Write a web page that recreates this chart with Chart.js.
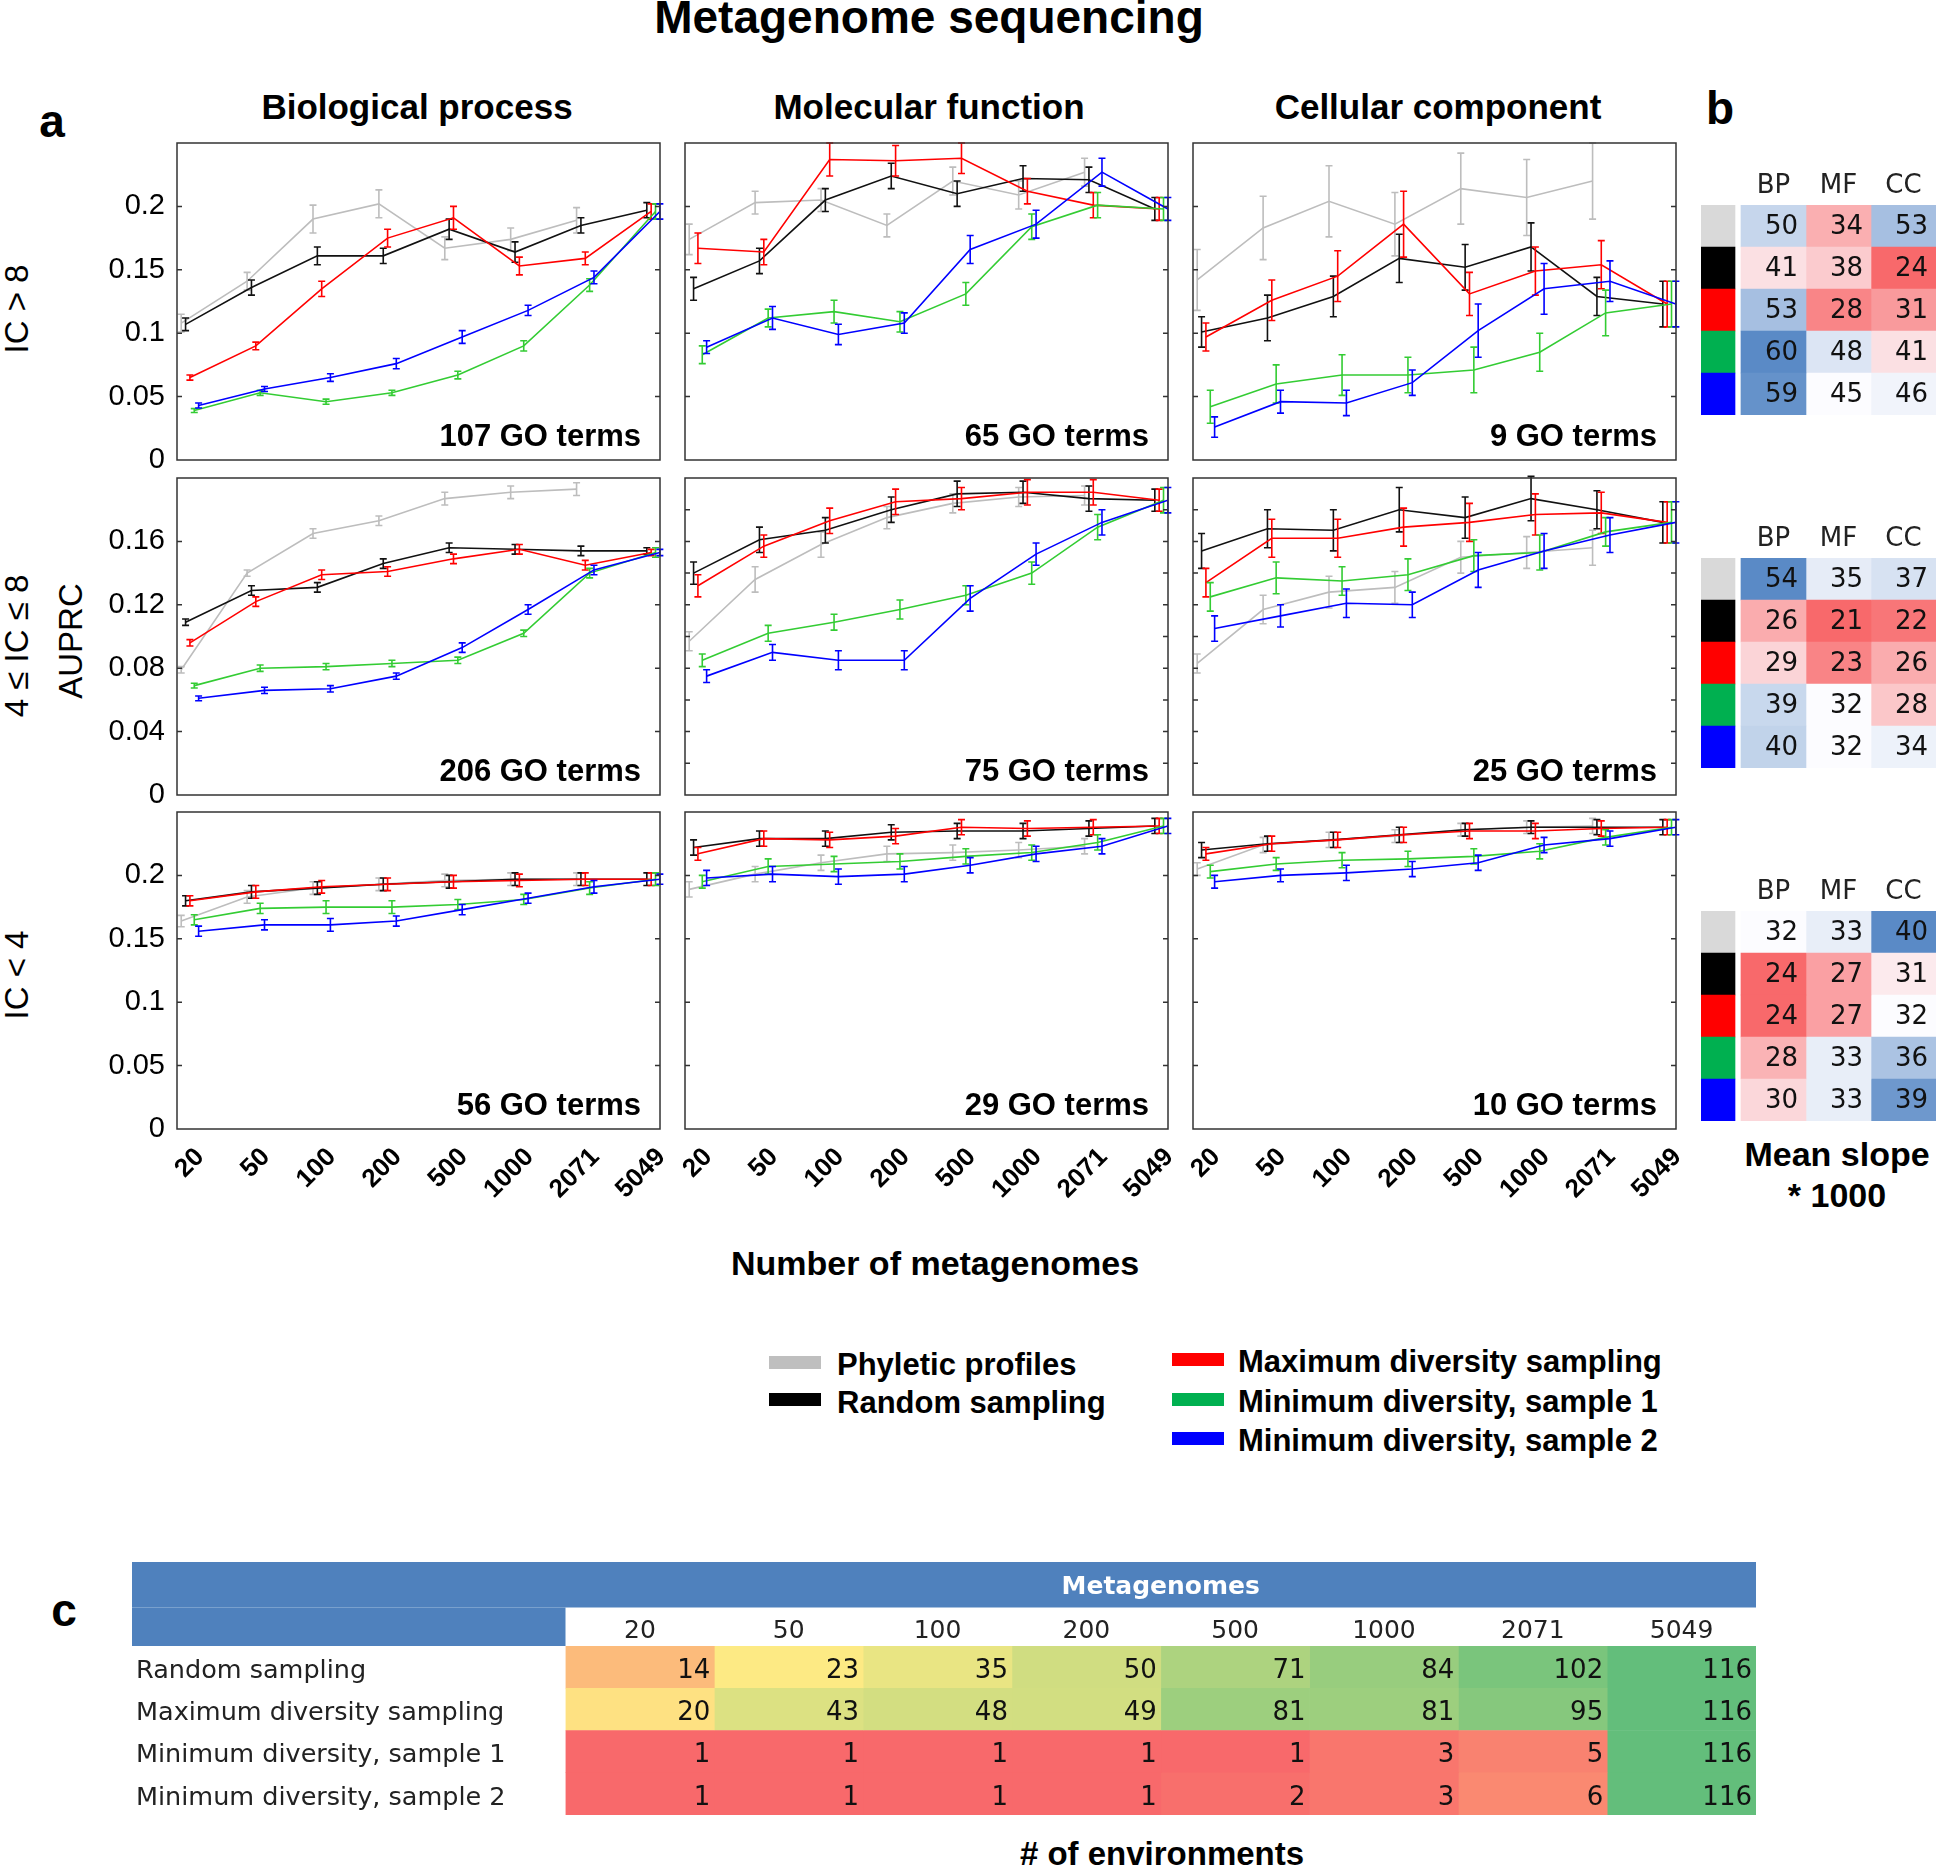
<!DOCTYPE html>
<html>
<head>
<meta charset="utf-8">
<script src="https://cdn.jsdelivr.net/npm/chart.js@4.4.1/dist/chart.umd.min.js"></script>
<style>
  body { margin: 0; width: 1936px; height: 1867px; overflow: hidden; background: #fff; position: relative;
         font-family: "Liberation Sans", Arial, Helvetica, sans-serif; color: #000; }
  canvas { position: absolute; }
  .t { position: absolute; white-space: nowrap; line-height: 1; }
  .c { transform: translate(-50%, -50%); }
  .r { transform: translate(-50%, -50%) rotate(-90deg); }
  .l { transform: translateY(-50%); }
  .b { font-weight: bold; }
  .sw { position: absolute; width: 52px; height: 13px; }
</style>
</head>
<body>

<div class="t c b" style="left:929px;top:17px;font-size:46px">Metagenome sequencing</div>
<div class="t c b" style="left:52px;top:121px;font-size:46px">a</div>
<div class="t c b" style="left:1720px;top:108px;font-size:46px">b</div>
<div class="t c b" style="left:64px;top:1610px;font-size:46px">c</div>

<div class="t c b" style="left:417px;top:106px;font-size:35px">Biological process</div>
<div class="t c b" style="left:929px;top:106px;font-size:35px">Molecular function</div>
<div class="t c b" style="left:1438px;top:106px;font-size:35px">Cellular component</div>

<div class="t r" style="left:16px;top:309px;font-size:33px">IC &gt; 8</div>
<div class="t r" style="left:16px;top:646px;font-size:33px">4 ≤ IC ≤ 8</div>
<div class="t r" style="left:16px;top:975px;font-size:33px">IC &lt; 4</div>
<div class="t r" style="left:70px;top:641px;font-size:33px">AUPRC</div>

<div class="t c b" style="left:935px;top:1263px;font-size:34px">Number of metagenomes</div>

<div class="sw" style="left:769px;top:1356px;background:#bfbfbf"></div>
<div class="sw" style="left:769px;top:1393px;background:#000"></div>
<div class="sw" style="left:1172px;top:1353px;background:#ff0000"></div>
<div class="sw" style="left:1172px;top:1393px;background:#00b050"></div>
<div class="sw" style="left:1172px;top:1432px;background:#0000ff"></div>
<div class="t l b" style="left:837px;top:1364px;font-size:31px">Phyletic profiles</div>
<div class="t l b" style="left:837px;top:1402px;font-size:31px">Random sampling</div>
<div class="t l b" style="left:1238px;top:1361px;font-size:31px">Maximum diversity sampling</div>
<div class="t l b" style="left:1238px;top:1401px;font-size:31px">Minimum diversity, sample 1</div>
<div class="t l b" style="left:1238px;top:1440px;font-size:31px">Minimum diversity, sample 2</div>

<div class="t c b" style="left:1837px;top:1154px;font-size:34px">Mean slope</div>
<div class="t c b" style="left:1837px;top:1195px;font-size:34px">* 1000</div>

<div class="t c b" style="left:1162px;top:1853px;font-size:33px"># of environments</div>

<script>
const FONT = '"Liberation Sans", Arial, Helvetica, sans-serif';
const CELL_FONT = '"DejaVu Sans", Verdana, sans-serif';

// categories
const metagenomes = ['20', '50', '100', '200', '500', '1000', '2071', '5049'];
const seriesNames = ['Phyletic profiles', 'Random sampling', 'Maximum diversity sampling',
                     'Minimum diversity, sample 1', 'Minimum diversity, sample 2'];
const ontologies = ['BP', 'MF', 'CC'];
const goTerms = [[107, 65, 9], [206, 75, 25], [56, 29, 10]];

// AUPRC means, rows = gray, black, red, green, blue
const bpHighMean = [
  [0.108, 0.141, 0.190, 0.202, 0.167, 0.174, 0.189],
  [0.107, 0.136, 0.161, 0.161, 0.182, 0.164, 0.185, 0.197],
  [0.065, 0.090, 0.135, 0.175, 0.191, 0.153, 0.159, 0.196],
  [0.039, 0.053, 0.046, 0.053, 0.067, 0.090, 0.138, 0.196],
  [0.043, 0.056, 0.065, 0.076, 0.097, 0.118, 0.144, 0.196]
];
const bpHighErr = [
  [0.007, 0.007, 0.011, 0.011, 0.009, 0.009, 0.010],
  [0.005, 0.006, 0.007, 0.006, 0.008, 0.008, 0.006, 0.006],
  [0.002, 0.003, 0.006, 0.007, 0.009, 0.007, 0.005, 0.006],
  [0.0015, 0.002, 0.002, 0.002, 0.003, 0.004, 0.005, 0.006],
  [0.002, 0.002, 0.003, 0.004, 0.005, 0.004, 0.005, 0.006]
];
const mfHighMean = [
  [0.174, 0.203, 0.205, 0.185, 0.220, 0.209, 0.227],
  [0.135, 0.157, 0.205, 0.224, 0.210, 0.222, 0.221, 0.198],
  [0.167, 0.164, 0.237, 0.236, 0.238, 0.212, 0.201, 0.198],
  [0.083, 0.112, 0.117, 0.109, 0.131, 0.184, 0.201, 0.198],
  [0.089, 0.112, 0.099, 0.108, 0.166, 0.186, 0.227, 0.198]
];
const mfHighErr = [
  [0.012, 0.009, 0.009, 0.009, 0.011, 0.011, 0.011],
  [0.009, 0.010, 0.009, 0.010, 0.010, 0.010, 0.010, 0.009],
  [0.012, 0.010, 0.013, 0.012, 0.012, 0.010, 0.010, 0.009],
  [0.007, 0.007, 0.009, 0.008, 0.009, 0.010, 0.010, 0.009],
  [0.005, 0.009, 0.008, 0.008, 0.011, 0.011, 0.011, 0.009]
];
const ccHighMean = [
  [0.142, 0.183, 0.204, 0.186, 0.214, 0.207, 0.220],
  [0.101, 0.112, 0.129, 0.159, 0.152, 0.168, 0.129, 0.123],
  [0.097, 0.126, 0.145, 0.186, 0.131, 0.149, 0.154, 0.123],
  [0.042, 0.060, 0.067, 0.067, 0.071, 0.085, 0.116, 0.123],
  [0.026, 0.046, 0.045, 0.061, 0.102, 0.135, 0.141, 0.123]
];
const ccHighErr = [
  [0.024, 0.025, 0.028, 0.025, 0.028, 0.030, 0.030],
  [0.012, 0.018, 0.016, 0.019, 0.018, 0.019, 0.015, 0.018],
  [0.011, 0.016, 0.020, 0.026, 0.017, 0.019, 0.019, 0.018],
  [0.013, 0.015, 0.016, 0.014, 0.018, 0.015, 0.018, 0.018],
  [0.008, 0.009, 0.010, 0.010, 0.021, 0.020, 0.016, 0.018]
];
const bpMidMean = [
  [0.079, 0.140, 0.165, 0.173, 0.187, 0.191, 0.193],
  [0.109, 0.129, 0.131, 0.146, 0.156, 0.155, 0.154, 0.154],
  [0.096, 0.122, 0.139, 0.141, 0.149, 0.155, 0.145, 0.153],
  [0.069, 0.080, 0.081, 0.083, 0.085, 0.102, 0.140, 0.153],
  [0.061, 0.066, 0.067, 0.075, 0.093, 0.117, 0.142, 0.153]
];
const bpMidErr = [
  [0.002, 0.002, 0.003, 0.003, 0.004, 0.004, 0.004],
  [0.002, 0.003, 0.003, 0.003, 0.003, 0.003, 0.003, 0.002],
  [0.002, 0.003, 0.003, 0.003, 0.003, 0.003, 0.003, 0.002],
  [0.0015, 0.002, 0.002, 0.002, 0.002, 0.002, 0.003, 0.003],
  [0.0015, 0.002, 0.002, 0.002, 0.003, 0.003, 0.003, 0.002]
];
const mfMidMean = [
  [0.097, 0.136, 0.158, 0.175, 0.184, 0.188, 0.189],
  [0.140, 0.161, 0.167, 0.180, 0.190, 0.191, 0.187, 0.186],
  [0.132, 0.157, 0.173, 0.185, 0.187, 0.191, 0.191, 0.186],
  [0.085, 0.102, 0.109, 0.117, 0.126, 0.140, 0.169, 0.186],
  [0.075, 0.090, 0.085, 0.085, 0.124, 0.152, 0.172, 0.186]
];
const mfMidErr = [
  [0.006, 0.008, 0.008, 0.007, 0.006, 0.006, 0.006],
  [0.007, 0.008, 0.008, 0.008, 0.008, 0.007, 0.008, 0.007],
  [0.007, 0.007, 0.008, 0.008, 0.007, 0.008, 0.008, 0.007],
  [0.004, 0.005, 0.005, 0.006, 0.006, 0.007, 0.008, 0.008],
  [0.004, 0.005, 0.006, 0.006, 0.008, 0.007, 0.008, 0.008]
];
const ccMidMean = [
  [0.083, 0.117, 0.128, 0.131, 0.150, 0.153, 0.156],
  [0.154, 0.168, 0.167, 0.180, 0.175, 0.187, 0.180, 0.172],
  [0.134, 0.162, 0.162, 0.169, 0.172, 0.177, 0.178, 0.172],
  [0.125, 0.137, 0.135, 0.139, 0.151, 0.153, 0.166, 0.172],
  [0.105, 0.113, 0.121, 0.120, 0.142, 0.154, 0.164, 0.172]
];
const ccMidErr = [
  [0.006, 0.009, 0.010, 0.010, 0.010, 0.010, 0.011],
  [0.011, 0.012, 0.013, 0.014, 0.013, 0.014, 0.012, 0.013],
  [0.009, 0.012, 0.012, 0.012, 0.012, 0.013, 0.013, 0.013],
  [0.009, 0.010, 0.009, 0.010, 0.010, 0.011, 0.009, 0.013],
  [0.008, 0.007, 0.009, 0.008, 0.011, 0.011, 0.011, 0.013]
];
const bpLowMean = [
  [0.164, 0.183, 0.190, 0.193, 0.196, 0.197, 0.197],
  [0.180, 0.187, 0.190, 0.193, 0.195, 0.197, 0.197, 0.197],
  [0.180, 0.187, 0.191, 0.193, 0.195, 0.196, 0.197, 0.197],
  [0.165, 0.174, 0.175, 0.175, 0.177, 0.181, 0.190, 0.197],
  [0.156, 0.161, 0.161, 0.164, 0.173, 0.182, 0.191, 0.197]
];
const bpLowErr = [
  [0.0045, 0.005, 0.005, 0.005, 0.005, 0.005, 0.005],
  [0.004, 0.005, 0.005, 0.005, 0.005, 0.005, 0.005, 0.005],
  [0.004, 0.005, 0.005, 0.005, 0.005, 0.005, 0.005, 0.005],
  [0.004, 0.004, 0.005, 0.005, 0.004, 0.004, 0.005, 0.005],
  [0.004, 0.004, 0.005, 0.004, 0.004, 0.004, 0.005, 0.004]
];
const mfLowMean = [
  [0.189, 0.201, 0.210, 0.217, 0.218, 0.220, 0.223],
  [0.222, 0.229, 0.229, 0.234, 0.235, 0.235, 0.237, 0.239],
  [0.217, 0.229, 0.228, 0.231, 0.238, 0.237, 0.238, 0.239],
  [0.195, 0.207, 0.209, 0.211, 0.215, 0.218, 0.226, 0.239],
  [0.198, 0.201, 0.199, 0.201, 0.208, 0.217, 0.223, 0.239]
];
const mfLowErr = [
  [0.006, 0.006, 0.006, 0.006, 0.006, 0.006, 0.006],
  [0.006, 0.006, 0.006, 0.006, 0.006, 0.006, 0.006, 0.006],
  [0.005, 0.006, 0.006, 0.006, 0.006, 0.006, 0.006, 0.006],
  [0.005, 0.006, 0.006, 0.006, 0.006, 0.006, 0.006, 0.006],
  [0.006, 0.006, 0.006, 0.006, 0.006, 0.006, 0.006, 0.006]
];
const ccLowMean = [
  [0.205, 0.224, 0.228, 0.231, 0.236, 0.238, 0.239],
  [0.220, 0.225, 0.228, 0.232, 0.236, 0.238, 0.238, 0.238],
  [0.217, 0.225, 0.228, 0.232, 0.235, 0.235, 0.237, 0.238],
  [0.203, 0.209, 0.212, 0.213, 0.215, 0.219, 0.230, 0.238],
  [0.195, 0.200, 0.202, 0.205, 0.210, 0.224, 0.229, 0.238]
];
const ccLowErr = [
  [0.005, 0.006, 0.006, 0.005, 0.005, 0.005, 0.006],
  [0.006, 0.006, 0.006, 0.006, 0.005, 0.005, 0.006, 0.006],
  [0.005, 0.006, 0.006, 0.006, 0.006, 0.006, 0.006, 0.006],
  [0.005, 0.005, 0.006, 0.006, 0.006, 0.006, 0.006, 0.006],
  [0.005, 0.005, 0.006, 0.006, 0.006, 0.006, 0.006, 0.006]
];

// mean slope * 1000 (rows gray, black, red, green, blue; cols BP, MF, CC)
const slopeHigh = [[50, 34, 53], [41, 38, 24], [53, 28, 31], [60, 48, 41], [59, 45, 46]];
const slopeMid = [[54, 35, 37], [26, 21, 22], [29, 23, 26], [39, 32, 28], [40, 32, 34]];
const slopeLow = [[32, 33, 40], [24, 27, 31], [24, 27, 32], [28, 33, 36], [30, 33, 39]];

// number of environments
const envRows = ['Random sampling', 'Maximum diversity sampling', 'Minimum diversity, sample 1', 'Minimum diversity, sample 2'];
const envCounts = [
  [14, 23, 35, 50, 71, 84, 102, 116],
  [20, 43, 48, 49, 81, 81, 95, 116],
  [1, 1, 1, 1, 1, 3, 5, 116],
  [1, 1, 1, 1, 2, 3, 6, 116]
];

const panelMeans = [[bpHighMean, mfHighMean, ccHighMean], [bpMidMean, mfMidMean, ccMidMean], [bpLowMean, mfLowMean, ccLowMean]];
const panelErrs = [[bpHighErr, mfHighErr, ccHighErr], [bpMidErr, mfMidErr, ccMidErr], [bpLowErr, mfLowErr, ccLowErr]];

const lineColors = ['#bdbdbd', '#111111', '#ff0000', '#33cc33', '#0000ff'];
const swatchColors = ['#d9d9d9', '#000000', '#ff0000', '#00b050', '#0000ff'];
const seriesShift = [-0.066, 0, 0.066, 0.132, 0.198];

const COL_LEFT = [177, 685, 1193], ROW_TOP = [143, 478, 812], BOX_W = 483, BOX_H = 317;

Chart.defaults.font.family = FONT;
Chart.defaults.color = '#000';

function makeCanvas(left, top, width, height) {
  const cv = document.createElement('canvas');
  cv.width = width; cv.height = height;
  cv.style.left = left + 'px'; cv.style.top = top + 'px';
  cv.style.width = width + 'px'; cv.style.height = height + 'px';
  document.body.appendChild(cv);
  return cv;
}

function noPad(s) { s.paddingLeft = s.paddingRight = s.paddingTop = s.paddingBottom = 0; }

// colour scales like a spreadsheet 3-colour rule (min, 50th percentile, max)
const RED = [248, 105, 107], WHITE = [252, 252, 255], BLUE = [90, 138, 198];
const YELLOW = [255, 235, 132], GREEN = [99, 190, 123];
function mix(a, b, t) { return 'rgb(' + a.map((v, k) => Math.round(v + (b[k] - v) * t)).join(',') + ')'; }
function percentile(arr, p) {
  const s = [...arr].sort((a, b) => a - b), idx = (s.length - 1) * p, lo = Math.floor(idx);
  return s[lo] + (s[Math.ceil(idx)] - s[lo]) * (idx - lo);
}
function colorScale3(all, cLo, cMid, cHi) {
  const lo = Math.min(...all), hi = Math.max(...all), mid = percentile(all, 0.5);
  return v => v <= mid ? mix(cLo, cMid, (v - lo) / (mid - lo)) : mix(cMid, cHi, (v - mid) / (hi - mid));
}

// plugins
const errorBars = {
  id: 'errorBars',
  afterDatasetDraw(chart, args) {
    const ds = chart.data.datasets[args.index], y = chart.scales.y, ctx = chart.ctx;
    ctx.save();
    ctx.strokeStyle = ds.borderColor;
    ctx.lineWidth = 1.6;
    args.meta.data.forEach((pt, i) => {
      const v = ds.data[i].y, e = ds.errors[i];
      const y1 = y.getPixelForValue(v - e), y2 = y.getPixelForValue(v + e);
      ctx.beginPath();
      ctx.moveTo(pt.x, y1); ctx.lineTo(pt.x, y2);
      ctx.moveTo(pt.x - 3.5, y1); ctx.lineTo(pt.x + 3.5, y1);
      ctx.moveTo(pt.x - 3.5, y2); ctx.lineTo(pt.x + 3.5, y2);
      ctx.stroke();
    });
    ctx.restore();
  }
};

const panelFrame = {
  id: 'panelFrame',
  afterDraw(chart, args, opts) {
    const { ctx, chartArea: a } = chart, y = chart.scales.y;
    ctx.save();
    ctx.strokeStyle = '#333';
    ctx.lineWidth = 1.5;
    ctx.strokeRect(a.left, a.top, a.right - a.left, a.bottom - a.top);
    ctx.beginPath();
    y.ticks.forEach(t => {
      const py = y.getPixelForValue(t.value);
      if (py <= a.top + 1 || py >= a.bottom - 1) return;
      ctx.moveTo(a.left, py); ctx.lineTo(a.left + 5, py);
      ctx.moveTo(a.right, py); ctx.lineTo(a.right - 5, py);
    });
    ctx.stroke();
    ctx.fillStyle = '#000';
    ctx.font = 'bold 31px ' + FONT;
    ctx.textAlign = 'right';
    ctx.textBaseline = 'alphabetic';
    ctx.fillText(opts.terms + ' GO terms', a.right - 19, a.bottom - 14);
    ctx.restore();
  }
};

const cellText = {
  id: 'cellText',
  afterDatasetsDraw(chart, args, opts) {
    const ctx = chart.ctx;
    ctx.save();
    ctx.font = opts.font;
    ctx.fillStyle = '#111';
    ctx.textAlign = 'right';
    ctx.textBaseline = 'middle';
    chart.data.datasets.forEach((ds, d) => {
      if (!ds.values) return;
      chart.getDatasetMeta(d).data.forEach((bar, i) => {
        ctx.fillText(String(ds.values[i]), Math.max(bar.x, bar.base) - opts.pad, bar.y + opts.dy);
      });
    });
    ctx.restore();
  }
};

const tableHeader = {
  id: 'tableHeader',
  beforeDraw(chart) {
    const { ctx, chartArea: a } = chart;
    const band = 45.5;
    ctx.save();
    ctx.fillStyle = '#4f81bd';
    ctx.fillRect(0, 0, a.right, band);
    ctx.fillRect(0, band, a.left, a.top - band);
    ctx.fillStyle = '#fff';
    ctx.font = 'bold 25px ' + CELL_FONT;
    ctx.textAlign = 'center';
    ctx.textBaseline = 'middle';
    ctx.fillText('Metagenomes', (a.left + a.right) / 2, band / 2 + 3);
    ctx.restore();
  }
};

// panel a
function linePanel(r, c) {
  const mean = panelMeans[r][c], err = panelErrs[r][c];
  const bottomH = r === 2 ? 130 : 20;
  const cv = makeCanvas(COL_LEFT[c] - 100, ROW_TOP[r] - 20, 100 + BOX_W + 40, 20 + BOX_H + bottomH);
  const yMax = r === 1 ? 0.2 : 0.25, yStep = r === 1 ? 0.02 : 0.05, labelStep = r === 1 ? 4 : 5;
  new Chart(cv, {
    type: 'scatter',
    data: {
      datasets: mean.map((vals, s) => ({
        label: seriesNames[s],
        data: vals.map((v, i) => ({ x: i + seriesShift[s], y: v })),
        errors: err[s],
        showLine: true,
        borderColor: lineColors[s],
        backgroundColor: lineColors[s],
        borderWidth: 1.6,
        pointRadius: 0,
        order: 4 - s
      }))
    },
    options: {
      responsive: false, animation: false, devicePixelRatio: 1,
      layout: { padding: { top: 20, right: 40, left: 0, bottom: 0 } },
      plugins: { legend: { display: false }, tooltip: { enabled: false }, panelFrame: { terms: goTerms[r][c] } },
      scales: {
        x: {
          type: 'linear', min: -0.13, max: 7.2,
          afterBuildTicks: s => { s.ticks = metagenomes.map((m, i) => ({ value: i + 0.22 })); },
          afterFit: s => { s.height = bottomH; noPad(s); },
          grid: { display: false, drawTicks: false }, border: { display: false },
          ticks: {
            display: r === 2, autoSkip: false, minRotation: 45, maxRotation: 45, padding: 13,
            font: { size: 26, weight: 'bold' }, color: '#000',
            callback: (v, i) => metagenomes[i]
          }
        },
        y: {
          min: 0, max: yMax,
          afterFit: s => { s.width = 100; noPad(s); },
          grid: { display: false, drawTicks: false }, border: { display: false },
          ticks: {
            stepSize: yStep, display: c === 0, padding: 12, font: { size: 29 }, color: '#000',
            callback: v => {
              const k = Math.round(v * 100);
              return (k % labelStep === 0 && k < Math.round(yMax * 100)) ? String(k / 100) : '';
            }
          }
        }
      }
    },
    plugins: [errorBars, panelFrame]
  });
}

// panel b
function slopeMap(top, values) {
  const colour = colorScale3(values.flat(), RED, WHITE, BLUE);
  const cv = makeCanvas(1701, top - 45, 235, 45 + 210);
  const datasets = [{ data: seriesNames.map(() => [-0.615, -0.092]), backgroundColor: swatchColors }];
  ontologies.forEach((o, j) => datasets.push({
    label: o,
    data: values.map(() => [j, j + 1]),
    values: values.map(row => row[j]),
    backgroundColor: values.map(row => colour(row[j]))
  }));
  new Chart(cv, {
    type: 'bar',
    data: { labels: seriesNames, datasets },
    options: {
      indexAxis: 'y', responsive: false, animation: false, devicePixelRatio: 1,
      layout: { padding: 0 },
      datasets: { bar: { grouped: false, barPercentage: 1, categoryPercentage: 1, borderWidth: 0 } },
      plugins: { legend: { display: false }, tooltip: { enabled: false }, cellText: { font: '26px ' + CELL_FONT, pad: 8, dy: 1 } },
      scales: {
        x: {
          type: 'linear', position: 'top', min: -0.615, max: 3,
          afterBuildTicks: s => { s.ticks = ontologies.map((o, j) => ({ value: j + 0.5 })); },
          afterFit: s => { s.height = 45; noPad(s); },
          grid: { display: false, drawTicks: false }, border: { display: false },
          ticks: { padding: 3, font: { size: 26, family: CELL_FONT }, color: '#222', callback: (v, i) => ontologies[i] }
        },
        y: { display: false }
      }
    },
    plugins: [cellText]
  });
}

// panel c
function envTable() {
  const colour = colorScale3(envCounts.flat(), RED, YELLOW, GREEN);
  const cv = makeCanvas(132, 1562, 1624, 253);
  const datasets = metagenomes.map((m, j) => ({
    label: m,
    data: envCounts.map(() => [j, j + 1]),
    values: envCounts.map(row => row[j]),
    backgroundColor: envCounts.map(row => colour(row[j]))
  }));
  new Chart(cv, {
    type: 'bar',
    data: { labels: envRows, datasets },
    options: {
      indexAxis: 'y', responsive: false, animation: false, devicePixelRatio: 1,
      layout: { padding: { left: 4, top: 0, right: 0, bottom: 0 } },
      datasets: { bar: { grouped: false, barPercentage: 1, categoryPercentage: 1, borderWidth: 0 } },
      plugins: { legend: { display: false }, tooltip: { enabled: false }, cellText: { font: '26px ' + CELL_FONT, pad: 4, dy: 4 } },
      scales: {
        x: {
          type: 'linear', position: 'top', min: 0, max: 8,
          afterBuildTicks: s => { s.ticks = metagenomes.map((m, j) => ({ value: j + 0.5 })); },
          afterFit: s => { s.height = 84; noPad(s); },
          grid: { display: false, drawTicks: false }, border: { display: false },
          ticks: { padding: 0, font: { size: 25, family: CELL_FONT }, color: '#222', callback: (v, i) => metagenomes[i] }
        },
        y: {
          afterFit: s => { s.width = 429.5; noPad(s); },
          grid: { display: false, drawTicks: false }, border: { display: false },
          ticks: { crossAlign: 'far', padding: 0, labelOffset: 4, font: { size: 25.5, family: CELL_FONT }, color: '#222' }
        }
      }
    },
    plugins: [tableHeader, cellText]
  });
}

for (let r = 0; r < 3; r++) for (let c = 0; c < 3; c++) linePanel(r, c);
slopeMap(205, slopeHigh);
slopeMap(558, slopeMid);
slopeMap(911, slopeLow);
envTable();
</script>
</body>
</html>
